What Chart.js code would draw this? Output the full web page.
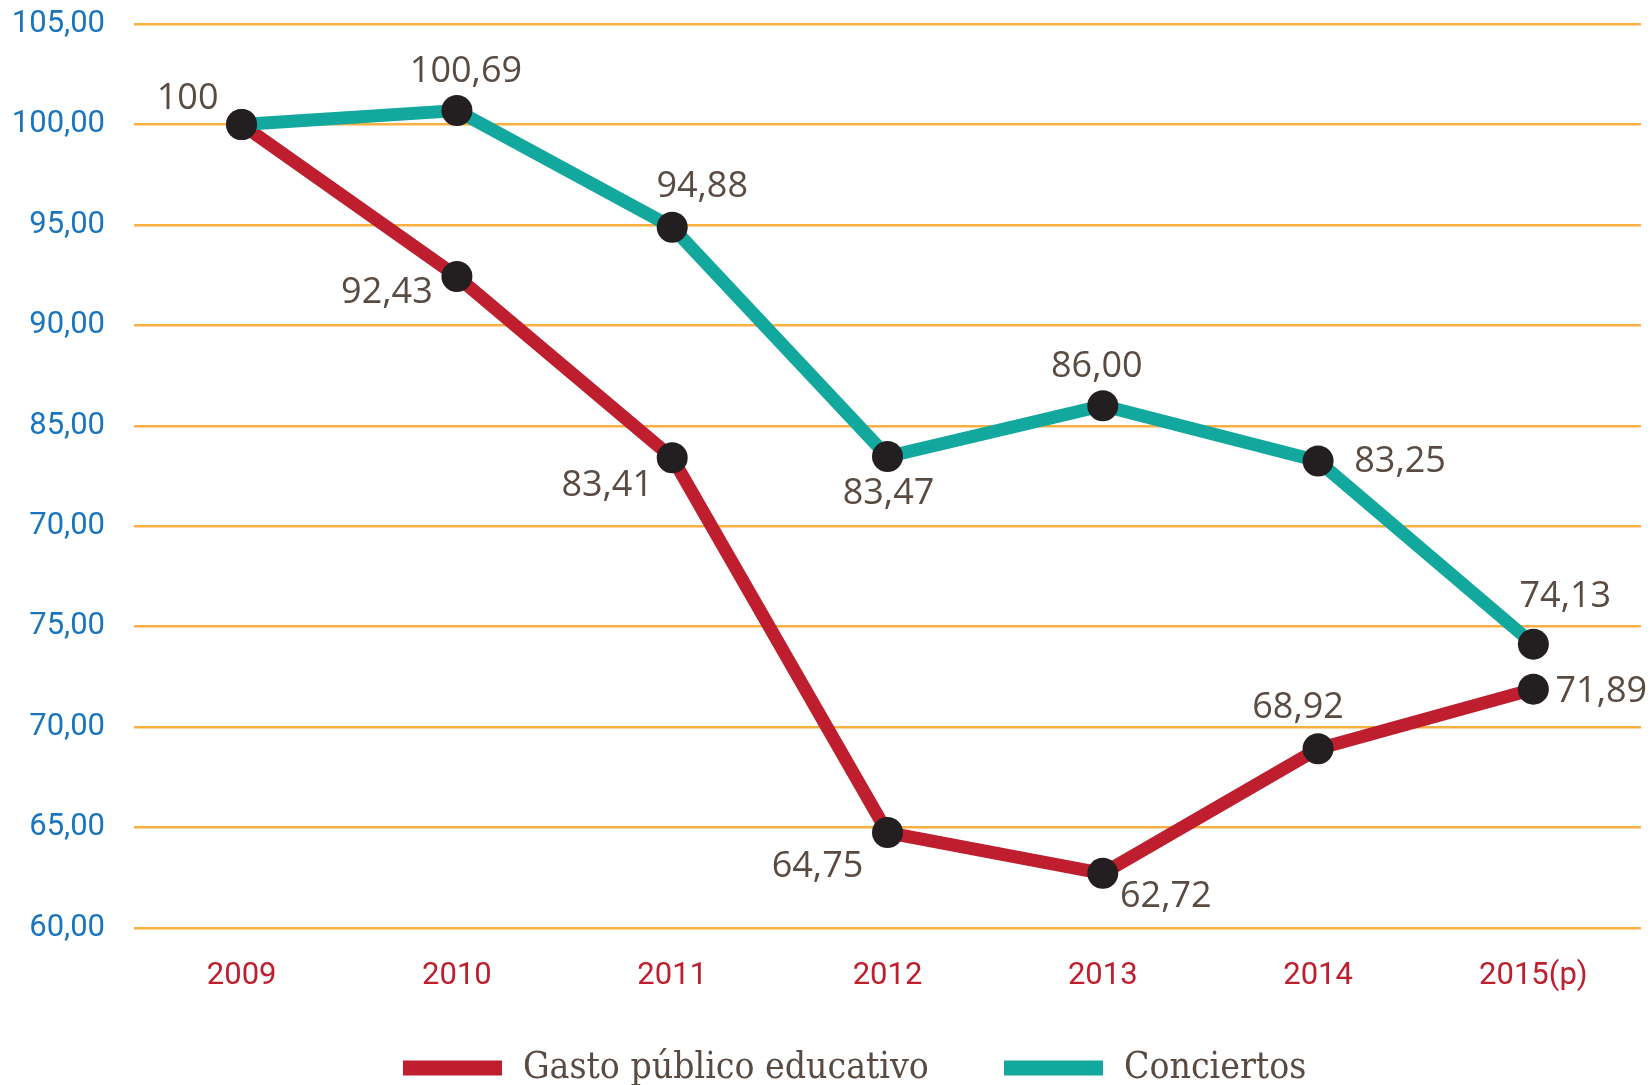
<!DOCTYPE html>
<html>
<head>
<meta charset="utf-8">
<script src="https://cdn.jsdelivr.net/npm/chart.js@4/dist/chart.umd.min.js"></script>
<style>
  html, body { margin: 0; padding: 0; background: #ffffff; }
  #wrap { width: 1652px; height: 1085px; position: relative; }
</style>
</head>
<body>
<div id="wrap"><canvas id="c"></canvas></div>
<script>
// ---- Data ----
const years = ['2009', '2010', '2011', '2012', '2013', '2014', '2015(p)'];
const gastoPublico = [100, 92.43, 83.41, 64.75, 62.72, 68.92, 71.89];
const conciertos = [100, 100.69, 94.88, 83.47, 86.00, 83.25, 74.13];
const yTickLabels = ['60,00', '65,00', '70,00', '75,00', '70,00', '85,00', '90,00', '95,00', '100,00', '105,00'];
const seriesNames = ['Gasto público educativo', 'Conciertos'];

// ---- Label placement (pixel offsets from each point) ----
const gastoLabelOffsets = [null, [-70, 16], [-65, 28], [-70, 34], [63, 23], [-20, -41], [68, 3]];
const conciertosLabelOffsets = [[-54, -26], [9, -39], [30, -41], [1, 37], [-6, -39], [82, 1], [32, -47]];

// ---- Legend placement ----
const legendSwatchX = [403, 1004];
const legendSwatchW = 99;
const legendSwatchH = 15;
const legendTextGap = 21;
const legendY = 1068;

const RED = '#be1e2d';
const TEAL = '#13a89e';
const DOT = '#231f20';
const GRID = '#fbb040';
const LABEL = '#594a42';

function fmt(v, i) {
  return i === 0 ? String(v) : v.toFixed(2).replace('.', ',');
}

const valueLabels = {
  id: 'valueLabels',
  afterDatasetsDraw(chart) {
    const ctx = chart.ctx;
    ctx.save();
    ctx.font = '36px "Open Sans", sans-serif';
    ctx.fillStyle = LABEL;
    ctx.textAlign = 'center';
    ctx.textBaseline = 'middle';
    chart.data.datasets.forEach((ds, di) => {
      const meta = chart.getDatasetMeta(di);
      const offs = ds.labelOffsets;
      meta.data.forEach((pt, i) => {
        const o = offs[i];
        if (!o) return;
        ctx.fillText(fmt(ds.data[i], i), pt.x + o[0], pt.y + o[1]);
      });
    });
    ctx.restore();
  }
};

const bottomLegend = {
  id: 'bottomLegend',
  afterDraw(chart) {
    const ctx = chart.ctx;
    ctx.save();
    ctx.font = '37px "DejaVu Serif", serif';
    try { ctx.fontStretch = 'condensed'; } catch (e) {}
    ctx.textAlign = 'left';
    ctx.textBaseline = 'middle';
    chart.data.datasets.forEach((ds, i) => {
      const x = legendSwatchX[i];
      ctx.fillStyle = ds.borderColor;
      ctx.fillRect(x, legendY - legendSwatchH / 2, legendSwatchW, legendSwatchH);
      ctx.fillStyle = LABEL;
      ctx.fillText(ds.label, x + legendSwatchW + legendTextGap, legendY);
    });
    ctx.restore();
  }
};

new Chart(document.getElementById('c'), {
  type: 'line',
  data: {
    labels: years,
    datasets: [
      {
        label: seriesNames[0],
        data: gastoPublico,
        labelOffsets: gastoLabelOffsets,
        borderColor: RED,
        backgroundColor: RED,
        borderWidth: 13,
        pointBackgroundColor: DOT,
        pointBorderWidth: 0,
        pointRadius: 15.5,
        pointHoverRadius: 15.5,
        tension: 0,
        clip: false,
        order: 2
      },
      {
        label: seriesNames[1],
        data: conciertos,
        labelOffsets: conciertosLabelOffsets,
        borderColor: TEAL,
        backgroundColor: TEAL,
        borderWidth: 13,
        pointBackgroundColor: DOT,
        pointBorderWidth: 0,
        pointRadius: 15.5,
        pointHoverRadius: 15.5,
        tension: 0,
        clip: false,
        order: 1
      }
    ]
  },
  options: {
    responsive: true,
    maintainAspectRatio: false,
    animation: false,
    layout: { autoPadding: false, padding: { left: 0, right: 11, top: 24, bottom: 92 } },
    plugins: {
      tooltip: { enabled: false },
      legend: { display: false }
    },
    scales: {
      x: {
        offset: true,
        afterFit(scale) { scale.height = 65; scale.paddingLeft = 0; scale.paddingRight = 0; },
        grid: { display: false, drawTicks: false },
        border: { display: false },
        ticks: {
          color: RED,
          padding: 30,
          font: { family: 'Roboto, sans-serif', size: 31 },
          maxRotation: 0
        }
      },
      y: {
        min: 60,
        max: 105,
        afterFit(scale) { scale.width = 134; scale.paddingTop = 0; scale.paddingBottom = 0; },
        grid: { color: GRID, lineWidth: 2.5, drawTicks: false },
        border: { display: false },
        ticks: {
          stepSize: 5,
          padding: 29,
          color: '#1b75bc',
          font: { family: 'Roboto, sans-serif', size: 31 },
          callback(value, index) { return yTickLabels[index]; }
        }
      }
    }
  },
  plugins: [valueLabels, bottomLegend]
});
</script>
</body>
</html>
